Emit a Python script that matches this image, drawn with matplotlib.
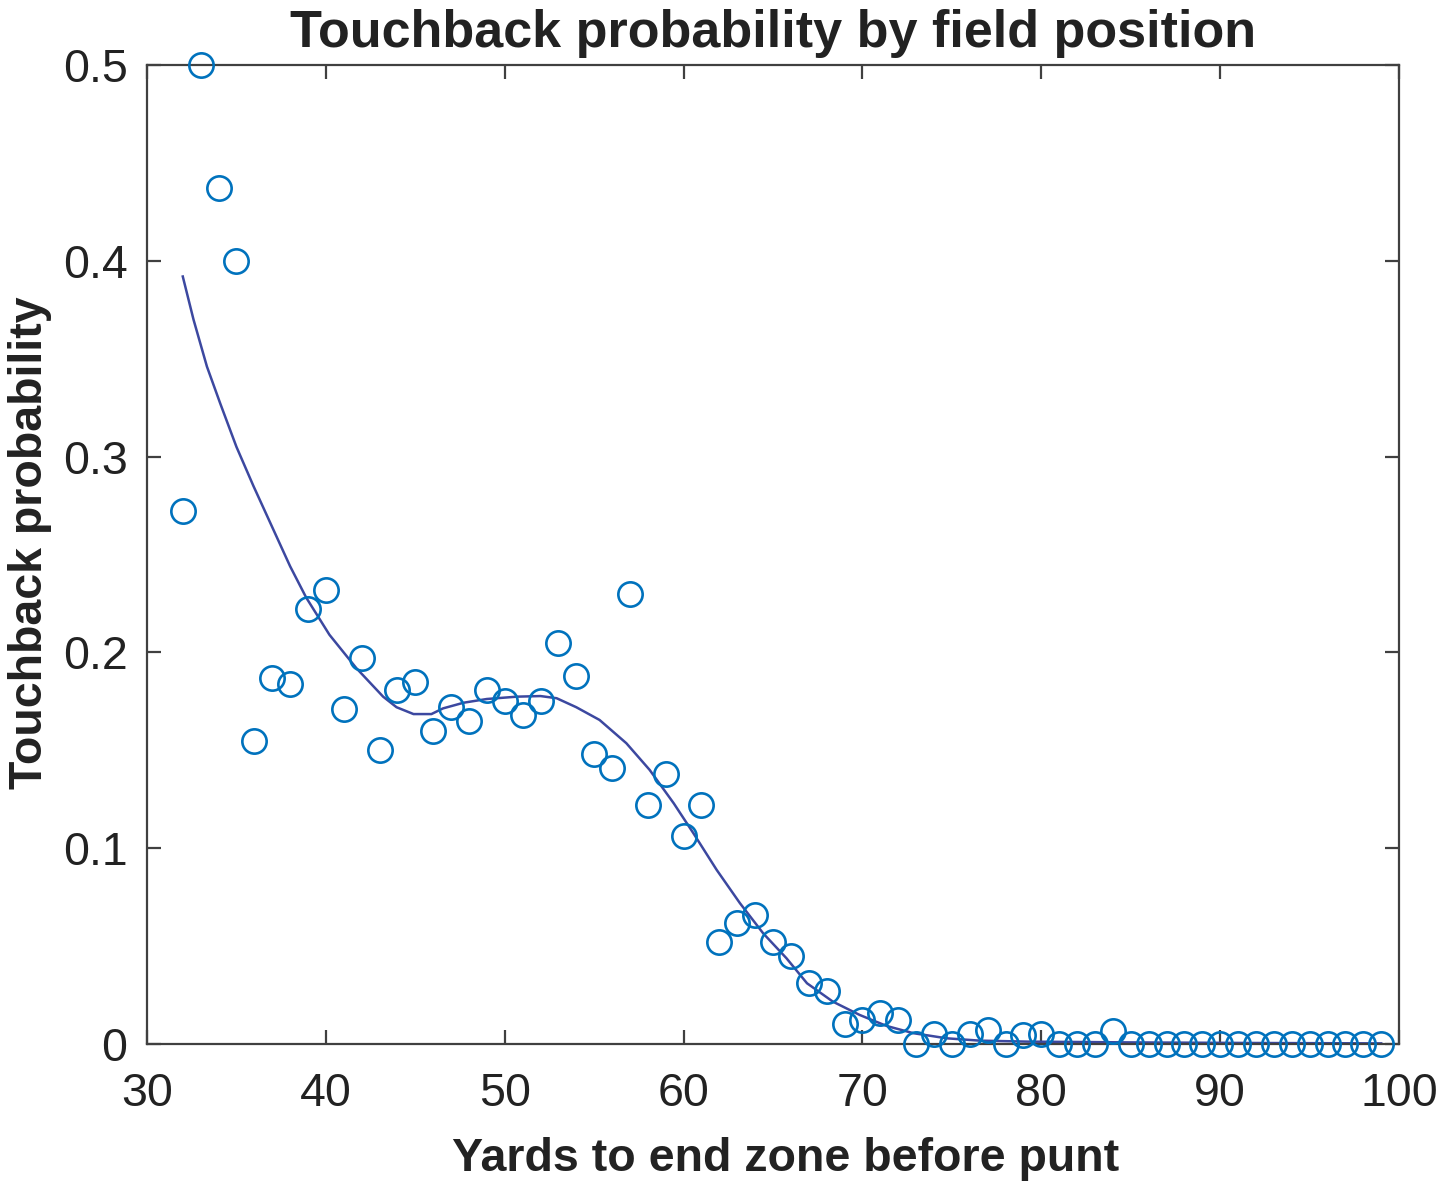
import matplotlib
matplotlib.use("Agg")
import matplotlib.pyplot as plt

# Observed touchback rate per starting field position
yards = list(range(32, 100))
touchback = [
    0.272, 0.500, 0.437, 0.400, 0.155, 0.187, 0.184, 0.222, 0.232, 0.171,
    0.197, 0.150, 0.181, 0.185, 0.160, 0.172, 0.165, 0.181, 0.175, 0.168,
    0.175, 0.205, 0.188, 0.148, 0.141, 0.230, 0.122, 0.138, 0.106, 0.122,
    0.052, 0.062, 0.066, 0.052, 0.045, 0.031, 0.027, 0.010, 0.012, 0.016,
    0.012, 0.000, 0.005, 0.000, 0.005, 0.007, 0.000, 0.0045, 0.005, 0.000,
    0.000, 0.000, 0.0066, 0.000, 0.000, 0.000, 0.000, 0.000, 0.000, 0.000,
    0.000, 0.000, 0.000, 0.000, 0.000, 0.000, 0.000, 0.000,
]

# Fitted curve
fit_x = [32.0, 32.6, 33.35, 34.1, 35.0, 35.95, 36.9, 38.0, 38.9, 40.2,
         41.7, 43.2, 43.95, 44.9, 45.9, 46.55, 47.7, 49.0, 50.7, 52.0,
         52.9, 54.0, 55.3, 56.8, 58.1, 59.45, 60.55, 61.85, 63.15,
         64.45, 65.75, 66.9, 68.35, 69.85, 71.35, 72.85, 74.7, 76.55, 79.2,
         85.0, 92.0, 99.0]
fit_y = [0.392, 0.370, 0.346, 0.327, 0.305, 0.285, 0.266, 0.244, 0.228, 0.209,
         0.192, 0.1774, 0.172, 0.1685, 0.1685, 0.1714, 0.1743, 0.1762, 0.1774, 0.1777,
         0.1766, 0.172, 0.1655, 0.1536, 0.140, 0.1229, 0.1076, 0.0889, 0.0719,
         0.0565, 0.0438, 0.031, 0.0216, 0.0148, 0.0092, 0.0055, 0.0029, 0.0017, 0.0012,
         0.0008, 0.0005, 0.0003]

plt.rcParams["font.family"] = ["Liberation Sans", "DejaVu Sans"]

fig = plt.figure(figsize=(14.37, 11.87), dpi=100)
ax = fig.add_axes([0.1023, 0.1205, 0.8713, 0.8247])

ax.plot(fit_x, fit_y, color="#3C48A0", linewidth=1.8, zorder=2)
ax.plot(yards, touchback, linestyle="none", marker="o", markersize=17.5,
        markerfacecolor="none", markeredgecolor="#0072BD",
        markeredgewidth=1.9, clip_on=False, zorder=3)

ax.set_xlim(30, 100)
ax.set_ylim(0, 0.5)
ax.set_xticks(range(30, 101, 10))
ax.set_yticks([0, 0.1, 0.2, 0.3, 0.4, 0.5])
ax.set_yticklabels(["0", "0.1", "0.2", "0.3", "0.4", "0.5"])

edge = "#404040"
for s in ax.spines.values():
    s.set_color(edge)
    s.set_linewidth(1.6)
ax.tick_params(direction="in", length=10, width=1.6, colors=edge,
               labelcolor="#222222", labelsize=33.5, top=True, right=True)
ax.tick_params(axis="x", pad=20)
ax.tick_params(axis="y", pad=14)

ax.set_title("Touchback probability by field position", fontsize=37.5,
             fontweight="bold", color="#222222", pad=13)
ax.set_xlabel("Yards to end zone before punt", fontsize=33.5,
              fontweight="bold", color="#222222", labelpad=15)
ax.set_ylabel("Touchback probability", fontsize=33.5,
              fontweight="bold", color="#222222", labelpad=8)
# labels sit slightly off-centre in the original
ax.xaxis.label.set_x(0.51)
ax.yaxis.label.set_y(0.512)

fig.savefig("out.png", dpi=100)
